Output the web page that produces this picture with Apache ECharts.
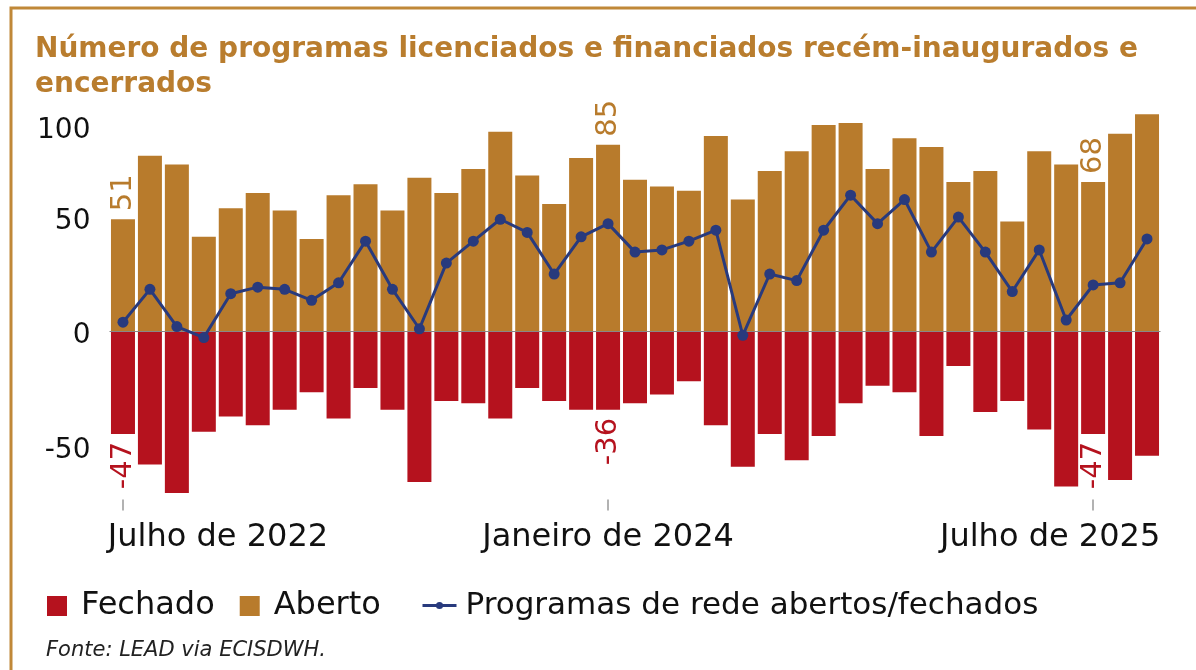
<!DOCTYPE html>
<html>
<head>
<meta charset="utf-8">
<script src="https://cdn.jsdelivr.net/npm/echarts@6/dist/echarts.min.js"></script>
<style>
html,body{margin:0;padding:0;background:#fff;}
#chart{width:1196px;height:670px;}
</style>
</head>
<body>
<div id="chart"></div>
<script>
var categories = [
  'Julho de 2022','Agosto de 2022','Setembro de 2022','Outubro de 2022','Novembro de 2022','Dezembro de 2022',
  'Janeiro de 2023','Fevereiro de 2023','Março de 2023','Abril de 2023','Maio de 2023','Junho de 2023',
  'Julho de 2023','Agosto de 2023','Setembro de 2023','Outubro de 2023','Novembro de 2023','Dezembro de 2023',
  'Janeiro de 2024','Fevereiro de 2024','Março de 2024','Abril de 2024','Maio de 2024','Junho de 2024',
  'Julho de 2024','Agosto de 2024','Setembro de 2024','Outubro de 2024','Novembro de 2024','Dezembro de 2024',
  'Janeiro de 2025','Fevereiro de 2025','Março de 2025','Abril de 2025','Maio de 2025','Junho de 2025',
  'Julho de 2025','Agosto de 2025','Setembro de 2025'
];
var aberto = [51,80,76,43,56,63,55,42,62,67,55,70,63,74,91,71,58,79,85,69,66,64,89,60,73,82,94,95,74,88,84,68,73,50,82,76,68,90,99];
var fechado = [-47,-61,-74,-46,-39,-43,-36,-28,-40,-26,-36,-69,-32,-33,-40,-26,-32,-36,-36,-33,-29,-23,-43,-62,-47,-59,-48,-33,-25,-28,-48,-16,-37,-32,-45,-71,-47,-68,-57];
var liquido = [4,19,2,-3,17,20,19,14,22,41,19,1,31,41,51,45,26,43,49,36,37,41,46,-2,26,23,46,62,49,60,36,52,36,18,37,5,21,22,42];
var yTicks = [-50,0,50,100];
var labelledIdx = [0,18,36];

var GOLD = '#B87B2C', RED = '#B5121E', NAVY = '#283A7D', FRAME = '#C08838';
var FONT = '"DejaVu Sans", sans-serif';

function withLabels(arr, labelCfg) {
  return arr.map(function (v, i) {
    if (labelledIdx.indexOf(i) >= 0) return { value: v, label: labelCfg };
    return v;
  });
}

var chart = echarts.init(document.getElementById('chart'), null, { renderer: 'canvas' });
chart.setOption({
  animation: false,
  backgroundColor: '#fff',
  title: [{
    text: 'Número de programas licenciados e financiados recém-inaugurados e\nencerrados',
    left: 30, top: 27,
    textStyle: { color: '#B97D2E', fontSize: 28, fontWeight: 'bold', fontFamily: FONT, lineHeight: 35 }
  }, {
    text: 'Fonte: LEAD via ECISDWH.',
    left: 41, top: 635,
    textStyle: { color: '#222', fontSize: 21, fontWeight: 'normal', fontStyle: 'italic', fontFamily: FONT }
  }],
  graphic: [
    { type: 'polyline', shape: { points: [[1196, 8], [11, 8], [11, 670]] }, style: { stroke: FRAME, lineWidth: 3, fill: null, lineJoin: 'miter' } }
  ],
  legend: [{
    data: [{ name: 'Fechado', icon: 'rect' }, { name: 'Aberto', icon: 'rect' }],
    left: 42, top: 585, itemWidth: 20, itemHeight: 20, itemGap: 25,
    textStyle: { fontSize: 32, color: '#111', fontFamily: FONT, padding: [0, 0, 0, 9] }
  }, {
    data: ['Programas de rede abertos/fechados'],
    left: 416, top: 585, itemWidth: 34, itemHeight: 9,
    lineStyle: { width: 3, color: NAVY },
    itemStyle: { color: NAVY },
    textStyle: { fontSize: 31, color: '#111', fontFamily: FONT, padding: [0, 0, 0, 4] }
  }],
  grid: { left: 109.5, right: 35.5, top: 101, bottom: 170.4 },
  xAxis: {
    type: 'category',
    data: categories,
    axisLine: { show: true, onZero: false, lineStyle: { color: '#999', opacity: 0 } },
    axisTick: { show: true, interval: 17, alignWithLabel: true, length: 11, lineStyle: { color: '#999', width: 1.5, opacity: 1 } },
    axisLabel: {
      interval: 17, margin: 22, fontSize: 32, color: '#111', fontFamily: FONT,
      formatter: function (v, i) {
        if (i === 0) return '{first|' + v + '}';
        if (i === 36) return '{last|' + v + '}';
        return v;
      },
      rich: {
        first: { fontSize: 32, color: '#111', fontFamily: FONT, padding: [0, 0, 0, 190] },
        last: { fontSize: 32, color: '#111', fontFamily: FONT, padding: [0, 86, 0, 0] }
      }
    }
  },
  yAxis: {
    type: 'value', min: -77, max: 105,
    splitLine: { show: false }, axisLine: { show: false }, axisTick: { show: false },
    axisLabel: {
      customValues: yTicks, margin: 19, fontSize: 28, color: '#111', fontFamily: FONT,
      formatter: function (v) {
        if (v === 100) return '{a|' + v + '}';
        if (v === -50) return '{b|' + v + '}';
        if (v === 0) return '{c|' + v + '}';
        return String(v);
      },
      rich: {
        a: { fontSize: 28, color: '#111', fontFamily: FONT, padding: [38, 0, 0, 0] },
        b: { fontSize: 28, color: '#111', fontFamily: FONT, padding: [20, 0, 0, 0] },
        c: { fontSize: 28, color: '#111', fontFamily: FONT, padding: [10, 0, 0, 0] }
      }
    }
  },
  series: [{
    name: 'Fechado', type: 'bar', stack: 'x', barWidth: 24,
    itemStyle: { color: RED },
    data: withLabels(fechado, { show: true, position: 'bottom', rotate: 90, align: 'right', verticalAlign: 'middle', distance: 8, color: RED, fontSize: 29, fontFamily: FONT }),
    markLine: {
      silent: true, symbol: 'none', label: { show: false },
      lineStyle: { color: '#888', width: 1.2, type: 'solid' },
      data: [{ yAxis: 0 }]
    }
  }, {
    name: 'Aberto', type: 'bar', stack: 'x', barWidth: 24,
    itemStyle: { color: GOLD },
    data: withLabels(aberto, { show: true, position: 'top', rotate: 90, align: 'left', verticalAlign: 'middle', distance: 8, color: GOLD, fontSize: 29, fontFamily: FONT })
  }, {
    name: 'Programas de rede abertos/fechados', type: 'line', z: 5,
    data: liquido, symbol: 'circle', symbolSize: 11,
    lineStyle: { color: NAVY, width: 3 }, itemStyle: { color: NAVY }
  }]
});
</script>
</body>
</html>
